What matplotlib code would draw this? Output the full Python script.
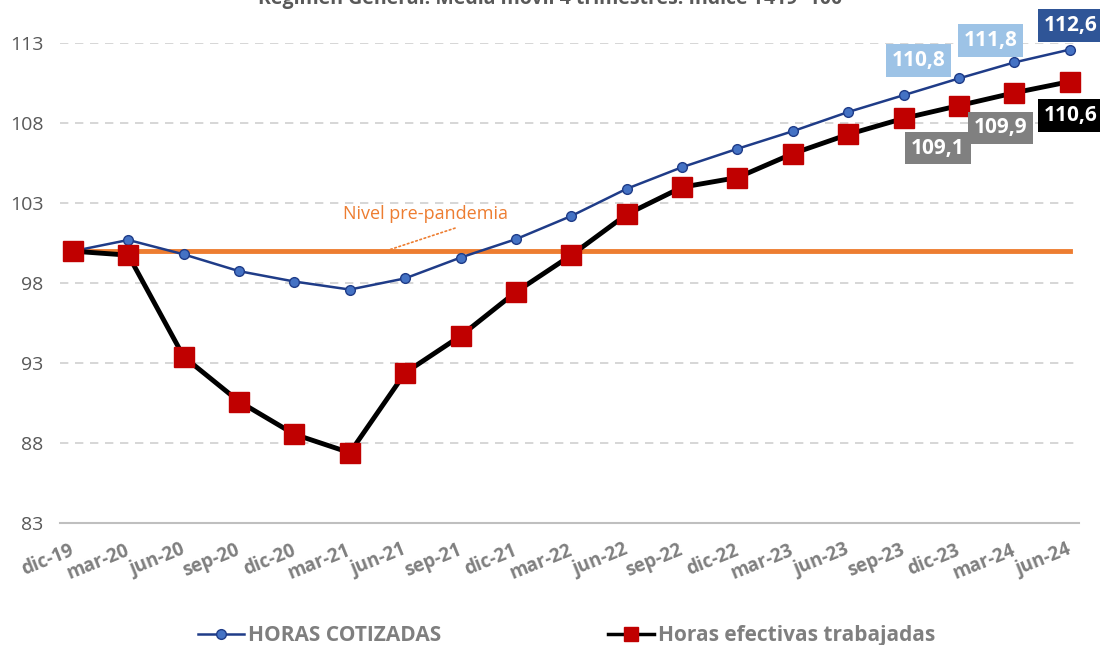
import matplotlib.pyplot as plt
import numpy as np

periods = ['dic-19', 'mar-20', 'jun-20', 'sep-20', 'dic-20', 'mar-21', 'jun-21', 'sep-21',
           'dic-21', 'mar-22', 'jun-22', 'sep-22', 'dic-22', 'mar-23', 'jun-23', 'sep-23',
           'dic-23', 'mar-24', 'jun-24']
horas_cotizadas = [100.0, 100.7, 99.8, 98.75, 98.1, 97.6, 98.3, 99.6, 100.75, 102.2,
                   103.9, 105.25, 106.4, 107.5, 108.7, 109.75, 110.8, 111.8, 112.6]
horas_efectivas = [100.0, 99.75, 93.4, 90.6, 88.55, 87.4, 92.4, 94.7, 97.45, 99.75,
                   102.3, 104.0, 104.6, 106.1, 107.3, 108.3, 109.1, 109.9, 110.6]
nivel_pre = [100.0] * len(periods)
yticks = [83, 88, 93, 98, 103, 108, 113]

plt.rcParams['font.family'] = ['Open Sans', 'DejaVu Sans']
gray = '#7F7F7F'

fig = plt.figure(figsize=(11, 6.45), dpi=100)
ax = fig.add_axes([0.0545, 0.189, 0.926, 0.744])
x = np.arange(len(periods))

ax.plot(x, nivel_pre, color='#ED7D31', lw=3.5, zorder=2)
ax.plot(x, horas_cotizadas, color='#1F3C88', lw=1.8, marker='o', markersize=7,
        markerfacecolor='#4472C4', markeredgecolor='#1F3C88', markeredgewidth=1,
        label='HORAS COTIZADAS', zorder=3, clip_on=False)
ax.plot(x, horas_efectivas, color='black', lw=3.5, marker='s', markersize=14,
        markerfacecolor='#C00000', markeredgecolor='#C00000',
        label='Horas efectivas trabajadas', zorder=4, clip_on=False)

ax.set_xlim(-0.235, 18.16)
ax.set_ylim(83, 113)
ax.set_yticks(yticks)
ax.set_xticks(x)
ax.set_xticklabels(periods, rotation=22, color=gray, fontsize=13.5, fontweight='bold',
                   ha='right', va='center', rotation_mode='anchor')
ax.tick_params(axis='x', length=0, pad=19)
ax.tick_params(axis='y', length=0, labelcolor='#595959', labelsize=14, pad=12)
ax.grid(axis='y', color='#D0D0D0', linestyle=(0, (5, 4)), lw=1.2)
ax.set_axisbelow(True)
for s in ['top', 'right', 'left']:
    ax.spines[s].set_visible(False)
ax.spines['bottom'].set_color('#BFBFBF')
ax.spines['bottom'].set_linewidth(1.5)
ax.spines['bottom'].set_zorder(1)

# annotation
ax.text(6.36, 102.3, 'Nivel pre-pandemia', color='#ED7D31', fontsize=13,
        ha='center', va='center')
ax.annotate('', xy=(5.69, 100.06), xytext=(6.9, 101.44),
            arrowprops=dict(arrowstyle='-', color='#ED7D31', linestyle=':', lw=1.2,
                            shrinkA=0, shrinkB=0))

# value labels
def box(xi, yi, txt, fc):
    ax.text(xi, yi, txt, color='white', fontsize=15, fontweight='bold', ha='center',
            va='center', bbox=dict(boxstyle='square,pad=0.28', fc=fc, ec='none'),
            clip_on=False, zorder=6)

box(15.27, 111.94, '110,8', '#9DC3E6')
box(16.57, 113.19, '111,8', '#9DC3E6')
box(18.02, 114.1, '112,6', '#2F5597')
box(18.02, 108.5, '110,6', '#000000')
box(16.75, 107.7, '109,9', '#808080')
box(15.62, 106.44, '109,1', '#808080')

leg = fig.legend(loc='center', bbox_to_anchor=(0.515, 0.015), ncol=2, frameon=False,
                 columnspacing=8, handlelength=2.2, handletextpad=0.2,
                 prop={'size': 15, 'weight': 'bold'})
for t in leg.get_texts():
    t.set_color(gray)
for h in leg.legend_handles:
    if h.get_marker() == 's':
        h.set_markersize(10)
        h.set_linewidth(2.5)
    else:
        h.set_linewidth(1.8)

fig.text(0.5, 1.005, 'Régimen General. Media móvil 4 trimestres. Índice T419=100',
         ha='center', va='center', color='#595959', fontsize=14, fontweight='bold')

fig.savefig('out.png', dpi=100)
